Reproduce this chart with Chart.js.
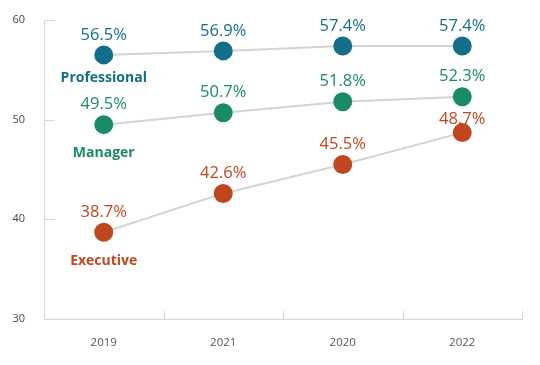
<!DOCTYPE html>
<html>
<head>
<meta charset="utf-8">
<script src="https://cdn.jsdelivr.net/npm/chart.js@4"></script>
<style>
  html, body { margin: 0; padding: 0; background: #fff; }
  #wrap { width: 540px; height: 365px; }
</style>
</head>
<body>
<div id="wrap"><canvas id="chart"></canvas></div>
<script>
var years = ['2019', '2021', '2020', '2022'];
var seriesNames = ['Professional', 'Manager', 'Executive'];
var professional = [56.5, 56.9, 57.4, 57.4];
var manager = [49.5, 50.7, 51.8, 52.3];
var executive = [38.7, 42.6, 45.5, 48.7];
var yTicks = [30, 40, 50, 60];

var colors = ['#136f89', '#1a8a6b', '#c0461f'];

// value labels above points, series name under the first point
var labelPlugin = {
    id: 'pointLabels',
    afterDatasetsDraw: function (chart) {
        var ctx = chart.ctx;
        ctx.save();
        ctx.textAlign = 'center';
        ctx.textBaseline = 'middle';
        chart.data.datasets.forEach(function (ds, di) {
            var meta = chart.getDatasetMeta(di);
            meta.data.forEach(function (pt, i) {
                var up = (ds.labelUp && ds.labelUp[i]) || 20;
                ctx.font = '16.5px "Open Sans"';
                ctx.fillStyle = ds.textColor;
                ctx.fillText(ds.data[i].toFixed(1) + '%', pt.x, pt.y - up);
            });
            var first = meta.data[0];
            ctx.font = 'bold 14px "Open Sans"';
            ctx.fillStyle = ds.textColor;
            ctx.fillText(ds.label, first.x, first.y + ds.nameDown);
        });
        ctx.restore();
    }
};

// short inward tick marks on both axes
var tickPlugin = {
    id: 'innerTicks',
    afterDraw: function (chart) {
        var ctx = chart.ctx;
        var x = chart.scales.x, y = chart.scales.y;
        ctx.save();
        ctx.strokeStyle = '#d6d6d6';
        ctx.lineWidth = 1;
        ctx.beginPath();
        var n = x.ticks.length;
        for (var i = 1; i <= n; i++) {
            var px = Math.round(x.left + i * x.width / n) + 0.5;
            ctx.moveTo(px, y.bottom);
            ctx.lineTo(px, y.bottom - 8);
        }
        yTicks.forEach(function (v) {
            if (v === y.min) return;
            var py = Math.round(y.getPixelForValue(v)) + 0.5;
            ctx.moveTo(x.left, py);
            ctx.lineTo(x.left + 11, py);
        });
        ctx.stroke();
        ctx.restore();
    }
};

function makeSet(name, data, c, nameDown, labelUp) {
    return {
        label: name,
        data: data,
        borderColor: '#d3d3d3',
        borderWidth: 2,
        pointBackgroundColor: c,
        pointBorderColor: c,
        pointRadius: 8.5,
        pointHoverRadius: 8.5,
        textColor: c,
        nameDown: nameDown,
        labelUp: labelUp,
        tension: 0
    };
}

var chart = new Chart(document.getElementById('chart').getContext('2d'), {
    type: 'line',
    data: {
        labels: years,
        datasets: [
            makeSet(seriesNames[0], professional, colors[0], 23),
            makeSet(seriesNames[1], manager, colors[1], 28),
            makeSet(seriesNames[2], executive, colors[2], 29, [0, 0, 0, 13])
        ]
    },
    options: {
        responsive: true,
        maintainAspectRatio: false,
        animation: false,
        events: [],
        layout: { autoPadding: false, padding: { top: 20, right: 18, left: 0, bottom: 0 } },
        plugins: {
            legend: { display: false },
            tooltip: { enabled: false }
        },
        scales: {
            x: {
                offset: true,
                grid: { display: true, drawOnChartArea: false, drawTicks: false, offset: true },
                border: { display: true, color: '#d6d6d6', width: 1 },
                ticks: { color: '#555', padding: 17, font: { family: '"Open Sans"', size: 11.5 } },
                afterFit: function (s) { s.height = 46; }
            },
            y: {
                min: 30,
                max: 60,
                grid: { display: true, drawOnChartArea: false, drawTicks: false },
                border: { display: true, color: '#d6d6d6', width: 1 },
                ticks: { stepSize: 10, color: '#444', padding: 19, font: { family: '"Open Sans"', size: 11 } },
                afterFit: function (s) {
                    s.width = 44;
                    // tick padding would otherwise push the plot top down
                    s.paddingTop = 6;
                    s.paddingBottom = 6;
                }
            }
        }
    },
    plugins: [labelPlugin, tickPlugin]
});
</script>
</body>
</html>
